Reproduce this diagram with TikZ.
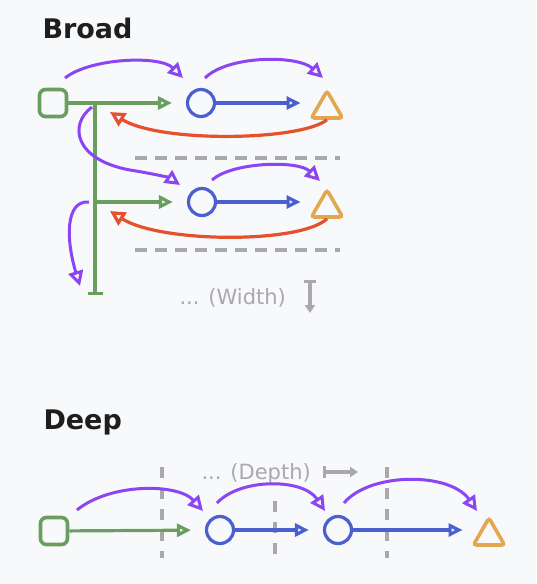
\documentclass[tikz,border=0pt]{standalone}
\usepackage{fontspec}
\setmainfont{DejaVu Sans}
\usepackage{tikz}
\usetikzlibrary{arrows.meta,shapes.geometric,positioning,calc}

\definecolor{bgc}{HTML}{F8F9FA}
\definecolor{grn}{HTML}{6A9E5E}
\definecolor{blu}{HTML}{4A5FD0}
\definecolor{org}{HTML}{E3A84F}
\definecolor{redc}{HTML}{E5512D}
\definecolor{pur}{HTML}{8B45F2}
\definecolor{gry}{HTML}{A9A9AB}
\definecolor{ink}{HTML}{1E1E1E}

\tikzset{
  box/.style={draw=grn, line width=3.6pt, rounded corners=6pt, minimum size=27pt, inner sep=0pt},
  ring/.style={circle, draw=blu, line width=3.2pt, minimum size=27pt, inner sep=0pt},
  tri/.style={regular polygon, regular polygon sides=3, draw=org, line width=3.6pt, rounded corners=3pt, minimum size=36pt, inner sep=0pt},
  grnarr/.style={grn, line width=3.2pt, -{Triangle[open,length=14pt,width=13pt]}},
  bluarr/.style={blu, line width=3.2pt, -{Triangle[open,length=14pt,width=13pt]}},
  trunk/.style={grn, line width=3.2pt, -{Bar[width=15pt]}},
  jump/.style={pur, line width=3pt, -{Triangle[open,length=15pt,width=15pt]}},
  back/.style={redc, line width=3.2pt, -{Triangle[open,length=15pt,width=15pt]}},
  sep/.style={gry, line width=3.4pt, dash pattern=on 12pt off 8pt},
  vsep/.style={gry, line width=3.4pt, dash pattern=on 11pt off 10pt},
  note/.style={text=gry, font=\fontsize{21}{23}\selectfont},
  title/.style={text=ink, font=\bfseries\fontsize{27}{30}\selectfont},
  dir/.style={gry, line width=3.4pt, {Bar[width=12pt]}-{Triangle[length=8pt,width=10pt]}}
}

\begin{document}
\begin{tikzpicture}[x=1pt, y=-1pt]
  \fill[bgc] (0,0) rectangle (536,584);

  % Broad
  \node[title, anchor=base west] (broad) at (39,38) {Broad};

  \node[box] (sqA) at (53,103) {};
  \node[ring] (c1) at (201,103) {};
  \node[tri] (t1) at (327,109) {};
  \node[ring] (c2) at (202,202) {};
  \node[tri] (t2) at (327,208) {};

  \coordinate (j1) at (95,103);
  \coordinate (j2) at (95,202);
  \coordinate (jend) at (95,295);

  \draw[grnarr, shorten >=14pt] (sqA) -- (c1);
  \draw[trunk] (j1) -- (jend);
  \draw[grnarr, shorten >=14pt] (j2) -- (c2);
  \draw[bluarr, shorten >=14pt] (c1) -- (c1 -| t1.west);
  \draw[bluarr, shorten >=14pt] (c2) -- (c2 -| t2.west);

  % returns
  \coordinate (r1) at (110,112);
  \coordinate (r2) at (110,211);
  \draw[back] (t1.south) .. controls (300,141) and (160,143) .. (r1);
  \draw[back] (t2.south) .. controls (300,244) and (160,243) .. (r2);

  % separators
  \draw[sep] (135,158) -- (340,158);
  \draw[sep] (135,250) -- (340,250);

  % control flow
  \coordinate (p1) at (65,78);
  \coordinate (p2) at (183,78);
  \coordinate (p3) at (205,78);
  \coordinate (p4) at (323,78);
  \coordinate (p5) at (92,107);
  \coordinate (p6) at (180,185);
  \coordinate (p7) at (212,180);
  \coordinate (p8) at (320,181);
  \coordinate (p9) at (89,202);
  \coordinate (p10) at (80,286);
  \draw[jump] (p1) .. controls (90,58) and (160,55) .. (p2);
  \draw[jump] (p3) .. controls (228,55) and (298,55) .. (p4);
  \draw[jump] (p5) .. controls (68,125) and (75,160) .. (130,170)
    .. controls (155,174) and (170,178) .. (p6);
  \draw[jump] (p7) .. controls (232,162) and (298,160) .. (p8);
  \draw[jump] (p9) .. controls (65,200) and (66,240) .. (p10);

  \node[note, anchor=base west] (wnote) at (176,304) {... (Width)};
  \coordinate (wa) at (310,280);
  \coordinate (wb) at (310,313);
  \draw[dir] (wa) -- (wb);

  % Deep
  \node[title, anchor=base west] (deep) at (40,429) {Deep};

  \draw[vsep] (162,467) -- (162,558);
  \draw[vsep] (275,501) -- (275,558);
  \draw[vsep] (387,467) -- (387,558);

  \node[note, anchor=base west] (dnote) at (198,479) {... (Depth)};
  \coordinate (da) at (323,472);
  \coordinate (db) at (358,472);
  \draw[dir] (da) -- (db);

  \node[box] (dsq) at (54,531) {};
  \node[ring] (dc1) at (220,530) {};
  \node[ring] (dc2) at (338,530) {};
  \node[tri] (dt) at (489,536) {};

  \draw[grnarr, shorten >=14pt] (dsq) -- (dc1);
  \draw[bluarr, shorten >=14pt] (dc1) -- (dc2);
  \draw[bluarr, shorten >=14pt] (dc2) -- (dc2 -| dt.west);

  \coordinate (q1) at (77,510);
  \coordinate (q2) at (203,511);
  \coordinate (q3) at (217,503);
  \coordinate (q4) at (325,511);
  \coordinate (q5) at (344,503);
  \coordinate (q6) at (477,511);
  \draw[jump] (q1) .. controls (110,483) and (178,483) .. (q2);
  \draw[jump] (q3) .. controls (240,478) and (303,478) .. (q4);
  \draw[jump] (q5) .. controls (370,472) and (450,472) .. (q6);
\end{tikzpicture}
\end{document}
